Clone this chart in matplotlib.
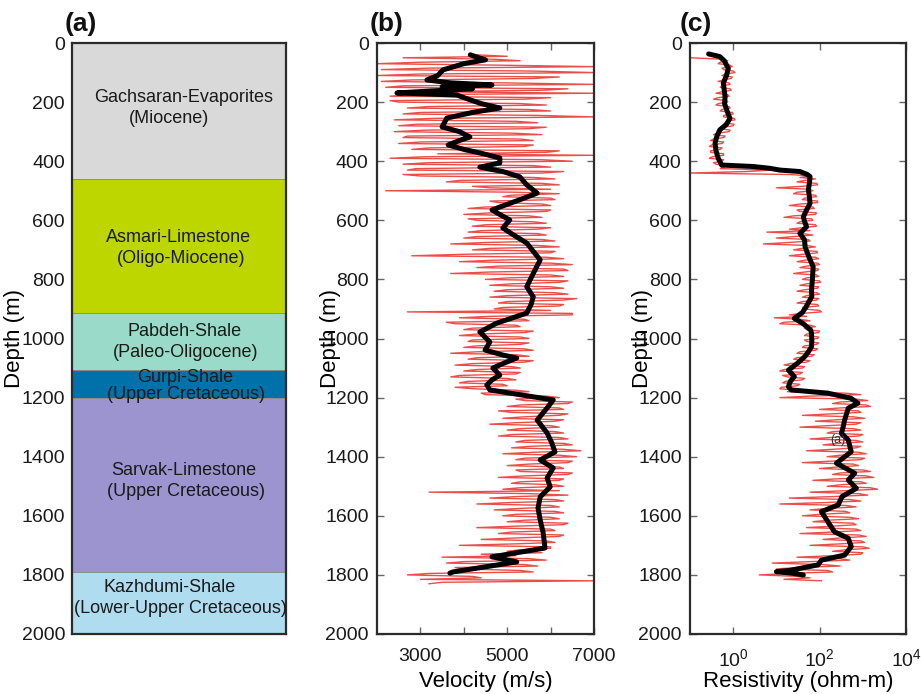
import numpy as np
import matplotlib
matplotlib.use('Agg')
import matplotlib.pyplot as plt
from matplotlib.ticker import FixedLocator, NullLocator

plt.rcParams['font.family'] = ['Liberation Sans', 'DejaVu Sans']
plt.rcParams['mathtext.fontset'] = 'custom'
plt.rcParams['mathtext.rm'] = 'Liberation Sans'
plt.rcParams['mathtext.it'] = 'Liberation Sans:italic'

# ---------------- data ----------------
layer_names = ["Gachsaran-Evaporites", "Asmari-Limestone", "Pabdeh-Shale",
               "Gurpi-Shale", "Sarvak-Limestone", "Kazhdumi-Shale"]
layer_ages = ["(Miocene)", "(Oligo-Miocene)", "(Paleo-Oligocene)",
              "(Upper Cretaceous)", "(Upper Cretaceous)", "(Lower-Upper Cretaceous)"]
layer_top = [0, 460, 915, 1105, 1203, 1790]
layer_bottom = [460, 915, 1105, 1203, 1790, 2000]
layer_colors = ["#d9d9d9", "#bed600", "#99dbc8", "#0072a9", "#9b94cf", "#b0dcf0"]

depth_ticks = [0, 200, 400, 600, 800, 1000, 1200, 1400, 1600, 1800, 2000]

# raw velocity log (m/s), sampled every 5 m from 40 m to 1830 m
vel_raw_depth = np.arange(40, 1831, 5)
vel_raw = [
    4300, 5000, 2600, 4700, 5300, 3000, 2000, 4800, 7000, 3200,
    2100, 5600, 7000, 3000, 2000, 6200, 5600, 2800, 2100, 5000,
    7000, 2600, 2200, 6400, 5800, 3000, 7000, 2800, 2300, 6000,
    5400, 2300, 2500, 5300, 5900, 3200, 2700, 5500, 6000, 3000,
    2600, 5700, 7000, 3300, 2400, 5200, 5700, 2900, 2500, 5900,
    5500, 3100, 2400, 5100, 5800, 2700, 2600, 5300, 5600, 3000,
    2500, 5600, 5400, 3200, 2800, 6200, 5900, 3400, 7000, 3100,
    2300, 5800, 6500, 3200, 2600, 5600, 6000, 2900, 2700, 6300,
    5800, 2600, 3000, 5600, 6100, 3900, 3600, 5800, 6200, 4200,
    4600, 6000, 2200, 5200, 6200, 5100, 4900, 6000, 6100, 4600,
    4800, 5800, 6000, 4500, 4100, 6000, 5900, 4600, 4000, 5500,
    5800, 4100, 4300, 5600, 5900, 4500, 4200, 6000, 5700, 4400,
    4100, 5700, 5900, 4300, 4000, 5800, 6100, 4500, 3700, 5700,
    6200, 4600, 4200, 6100, 6000, 4000, 2800, 5900, 6300, 4700,
    3900, 6000, 6500, 4800, 4300, 6300, 6400, 4600, 3700, 6000,
    6300, 5000, 4500, 6400, 6200, 5100, 4600, 6000, 6300, 5000,
    4700, 6100, 6400, 5000, 4600, 6600, 6300, 5000, 4800, 6300,
    6200, 4900, 4700, 6000, 2700, 6500, 6500, 4600, 3900, 5400,
    5500, 3600, 3800, 5200, 5300, 4200, 4000, 5600, 5400, 4300,
    3900, 5300, 5500, 4200, 4100, 5500, 5300, 4300, 4000, 5400,
    5600, 4300, 3700, 5200, 5500, 4300, 4100, 5600, 5400, 4200,
    3800, 5100, 5300, 4300, 4000, 5300, 5200, 3900, 3700, 5000,
    5200, 4100, 3900, 4900, 5000, 3800, 4200, 5200, 5500, 4400,
    4500, 5900, 6200, 5200, 5400, 6500, 6400, 5300, 5000, 6200,
    6300, 4800, 5100, 6400, 6200, 5400, 4900, 6300, 6100, 5200,
    4600, 6000, 6200, 5300, 5000, 6100, 6300, 5100, 4800, 6200,
    6400, 5400, 5200, 6300, 6500, 5500, 5100, 6300, 6700, 5600,
    4900, 6200, 6600, 5400, 5200, 6500, 6400, 5500, 5000, 6200,
    6300, 5200, 5300, 6500, 6400, 5400, 4800, 6300, 6200, 5300,
    5100, 6100, 6300, 5300, 4900, 6200, 3200, 5500, 6400, 5200,
    4600, 6100, 6300, 5100, 4300, 6000, 6200, 5300, 4700, 6100,
    6300, 5200, 4900, 6000, 6200, 5400, 5000, 6400, 6300, 5200,
    4300, 6000, 6100, 5100, 4800, 6300, 6200, 5200, 4400, 5900,
    6100, 5200, 3900, 6000, 6000, 5300, 5000, 5800, 4400, 5200,
    3500, 5500, 5900, 4000, 3600, 5400, 5700, 3800, 4000, 5300,
    5600, 3200, 2700, 4200, 4400, 3000, 7000, 3500, 3200,
]

# smoothed velocity
vel_smooth_depth = [40, 50, 57, 70, 91, 110, 125, 135, 142, 148,
                    155, 162, 169, 176, 190, 205, 220, 235, 254, 284,
                    300, 318, 330, 345, 360, 372, 389, 406, 420, 435,
                    453, 480, 508, 530, 555, 565, 582, 599, 626, 650,
                    677, 705, 734, 780, 825, 859, 885, 914, 948, 978,
                    1012, 1039, 1056, 1066, 1085, 1100, 1124, 1140, 1157, 1174,
                    1208, 1235, 1276, 1320, 1354, 1384, 1411, 1438, 1472, 1502,
                    1536, 1574, 1614, 1658, 1709, 1739, 1756, 1790, 1794]
vel_smooth = [4150, 4350, 4500, 4000, 3520, 3400, 3150, 3700, 4650, 3500,
              4200, 3300, 2460, 3840, 4100, 4400, 4830, 4200, 3610, 3500,
              3900, 4140, 3900, 3640, 4000, 4370, 4830, 4830, 4370, 4900,
              5290, 5450, 5690, 5300, 4830, 4650, 4850, 5060, 4900, 5150,
              5450, 5600, 5760, 5600, 5450, 5600, 5550, 5450, 4760, 4370,
              4600, 4490, 4900, 5220, 4900, 4670, 4830, 4650, 4530, 4600,
              6060, 5920, 5690, 5920, 6030, 6100, 5760, 6060, 5920, 5990,
              5760, 5710, 5760, 5830, 5870, 4650, 5220, 3750, 3680]

# raw resistivity log (ohm-m), sampled every 5 m from 50 m to 1820 m
res_raw_depth = np.arange(50, 1821, 5)
res_raw = [
    0.1, 0.6, 0.75, 0.5, 0.45, 0.85, 0.95, 0.55, 0.6, 1.0,
    1.1, 0.65, 0.55, 0.95, 0.9, 0.6, 0.45, 0.8, 0.85, 0.55,
    0.5, 0.85, 0.9, 0.55, 0.4, 0.75, 0.8, 0.45, 0.35, 0.7,
    0.75, 0.45, 0.4, 0.8, 0.85, 0.55, 0.5, 0.95, 1.0, 0.6,
    0.6, 1.05, 1.1, 0.7, 0.65, 1.05, 1.0, 0.6, 0.5, 0.85,
    0.8, 0.45, 0.35, 0.65, 0.6, 0.35, 0.3, 0.6, 0.55, 0.32,
    0.28, 0.55, 0.5, 0.3, 0.3, 0.6, 0.6, 0.33, 0.28, 0.6,
    0.55, 0.35, 0.4, 0.65, 0.6, 0.5, 8.0, 2.0, 0.1, 20,
    65, 35, 80, 45, 30, 85, 90, 40, 10, 60,
    70, 30, 25, 80, 85, 45, 40, 90, 90, 35,
    20, 70, 75, 30, 35, 85, 80, 25, 15, 65,
    70, 35, 30, 80, 85, 40, 20, 60, 6, 40,
    70, 25, 10, 55, 60, 20, 5, 50, 80, 40,
    25, 85, 90, 40, 20, 80, 95, 45, 30, 90,
    100, 50, 35, 95, 90, 45, 25, 85, 95, 50,
    40, 100, 105, 50, 35, 95, 90, 45, 30, 85,
    100, 50, 40, 95, 85, 40, 30, 90, 95, 40,
    45, 100, 110, 40, 20, 50, 9, 35, 60, 15,
    12, 60, 80, 45, 50, 100, 95, 50, 45, 95,
    90, 45, 50, 95, 85, 45, 40, 90, 80, 35,
    30, 75, 65, 30, 25, 60, 50, 20, 15, 45,
    40, 15, 12, 40, 35, 14, 18, 45, 40, 16,
    14, 35, 30, 13, 12, 30, 18, 400, 900, 60,
    12, 700, 1300, 300, 200, 1200, 1500, 300, 100, 800,
    900, 200, 40, 600, 1100, 250, 80, 900, 700, 150,
    35, 600, 900, 200, 150, 1000, 800, 180, 60, 700,
    1000, 250, 120, 900, 700, 200, 50, 800, 1200, 300,
    150, 1100, 900, 200, 40, 600, 800, 250, 100, 1000,
    1500, 300, 200, 1200, 1800, 250, 70, 900, 1200, 300,
    150, 1500, 2200, 400, 60, 800, 1300, 200, 20, 500,
    900, 150, 12, 400, 700, 150, 60, 400, 500, 100,
    40, 500, 800, 150, 70, 600, 700, 200, 50, 700,
    900, 200, 35, 800, 1200, 300, 120, 900, 1100, 300,
    60, 1000, 1400, 400, 200, 1000, 900, 200, 30, 300,
    500, 60, 8, 120, 300, 30, 10, 150, 200, 20,
    4, 30, 60, 15, 110,
]

# smoothed resistivity
res_smooth_depth = [37, 46, 60, 86, 110, 136, 160, 182, 205, 227,
                    255, 275, 294, 315, 339, 365, 390, 413, 418, 424,
                    430, 435, 445, 452, 475, 497, 520, 543, 565, 588,
                    605, 622, 644, 667, 689, 720, 757, 800, 836, 858,
                    892, 912, 932, 949, 971, 982, 1005, 1028, 1045, 1062,
                    1085, 1107, 1129, 1145, 1163, 1174, 1185, 1202, 1219, 1236,
                    1255, 1276, 1300, 1321, 1343, 1383, 1422, 1456, 1479, 1507,
                    1535, 1563, 1586, 1620, 1654, 1676, 1704, 1733, 1750, 1766,
                    1785, 1789, 1795, 1800]
res_smooth = [0.27, 0.49, 0.62, 0.77, 0.7, 0.59, 0.62, 0.65, 0.63, 0.71,
              0.84, 0.7, 0.49, 0.42, 0.38, 0.4, 0.45, 0.54, 2.9, 7,
              12, 35, 52, 60, 58, 55, 58, 60, 50, 42,
              45, 50, 35, 45, 46, 55, 71, 68, 65, 66,
              49, 40, 26, 41, 62, 65, 66, 65, 55, 45,
              30, 19, 26, 21, 19, 22, 155, 530, 770, 460,
              420, 380, 350, 320, 460, 540, 245, 650, 460, 710,
              330, 270, 110, 155, 220, 460, 540, 380, 110, 92,
              20, 10, 25, 42]

vel_xticks = [3000, 4000, 5000, 6000, 7000]
vel_xticklabels = ["3000", "", "5000", "", "7000"]
res_xticks = [1e0, 1e2, 1e4]

# ---------------- layout ----------------
W, H = 921, 694
fig = plt.figure(figsize=(W / 100, H / 100), dpi=100)

def add_ax(left_px, width_px):
    return fig.add_axes([left_px / W, 1 - 634 / H, width_px / W, 591 / H])

axA = add_ax(72, 214)
axB = add_ax(377, 217)
axC = add_ax(690, 216)

spine_col = "#2b2b2b"
tick_col = "#1a1a1a"

# label anchor = right edge of the rotated "Depth (m)" text, in pixels
for ax, lx in ((axA, 25), (axB, 341), (axC, 653)):
    ax.set_ylim(2000, 0)
    ax.yaxis.set_major_locator(FixedLocator(depth_ticks))
    for s in ax.spines.values():
        s.set_color(spine_col)
        s.set_linewidth(1.6)
    ax.set_ylabel("Depth (m)", fontsize=16)
    bb = ax.get_position()
    ax.yaxis.set_label_coords((lx / W - bb.x0) / bb.width, 0.5)

# ---- panel (a) ----
axA.set_xlim(0, 1)
axA.set_xticks([])
axA.tick_params(axis='y', length=0, pad=5, labelsize=14, labelcolor=tick_col)
for top, bot, col in zip(layer_top, layer_bottom, layer_colors):
    axA.axhspan(top, bot, facecolor=col, edgecolor="#8a8a8a", linewidth=0.6)

# text positions (x in axes fraction, y in depth) per layer: name line, age line
text_pos = [((0.52, 183), (0.455, 254)),
            ((0.50, 657), (0.51, 728)),
            ((0.528, 975), (0.533, 1049)),
            ((0.53, 1132), (0.533, 1188)),
            ((0.523, 1448), (0.533, 1519)),
            ((0.455, 1844), (0.505, 1915))]
for name, age, (p1, p2) in zip(layer_names, layer_ages, text_pos):
    axA.text(p1[0], p1[1], name, ha='center', va='center', fontsize=13,
             color="#1a1a1a", transform=axA.get_yaxis_transform())
    axA.text(p2[0], p2[1], age, ha='center', va='center', fontsize=13,
             color="#1a1a1a", transform=axA.get_yaxis_transform())

# ---- panel (b) ----
red = "#e6302a"
axB.plot(vel_raw, vel_raw_depth, color=red, lw=1.0, alpha=0.85, zorder=2)
axB.plot(vel_smooth, vel_smooth_depth, color="black", lw=3.6,
         solid_capstyle='round', solid_joinstyle='round', zorder=3)
axB.set_xlim(2000, 7000)
axB.xaxis.set_major_locator(FixedLocator(vel_xticks))
axB.set_xticklabels(vel_xticklabels)
axB.set_xlabel("Velocity (m/s)", fontsize=16)

# ---- panel (c) ----
axC.plot(res_raw, res_raw_depth, color=red, lw=1.0, alpha=0.85, zorder=2)
axC.plot(res_smooth, res_smooth_depth, color="black", lw=3.6,
         solid_capstyle='round', solid_joinstyle='round', zorder=3)
axC.set_xscale('log')
axC.set_xlim(1e-1, 1e4)
axC.xaxis.set_major_locator(FixedLocator(res_xticks))
axC.xaxis.set_minor_locator(NullLocator())
axC.set_xlabel("Resistivity (ohm-m)", fontsize=16)
axC.text(270, 1343, "(a)", fontsize=9, color="#333333", ha='center', va='center', zorder=4)

for ax in (axB, axC):
    ax.tick_params(axis='both', which='both', direction='in', length=5, width=1,
                   color="#666666", top=True, right=True, labelsize=14,
                   labelcolor=tick_col, pad=6)
    ax.tick_params(axis='x', pad=10)
    # x label top edge at ~671 px
    ax.xaxis.set_label_coords(0.5, (634 - 671) / 591)

# panel labels
for lbl, xpx in (("(a)", 65), ("(b)", 370), ("(c)", 680)):
    fig.text(xpx / W, 1 - 31 / H, lbl, fontsize=19, fontweight='bold',
             ha='left', va='baseline', color="#111111")

fig.savefig("out.png", dpi=100)
